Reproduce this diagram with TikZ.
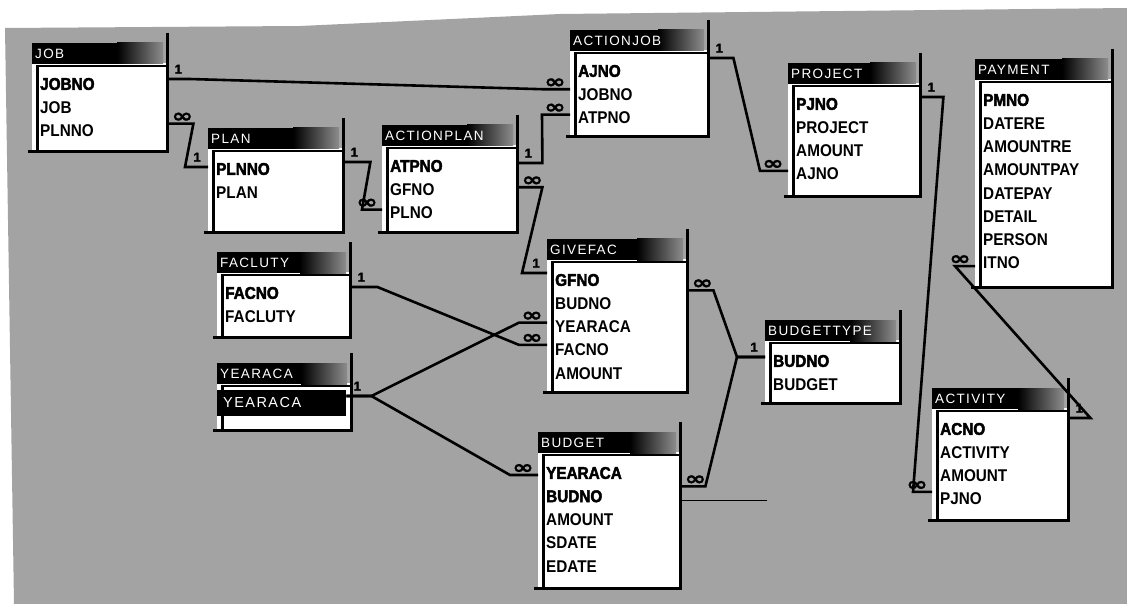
\documentclass[tikz,border=0pt]{standalone}
\usepackage{fontspec}
\setmainfont{Liberation Sans}
\newfontfamily\fieldfam{Liberation Sans}[FakeStretch=0.9]
\newfontfamily\keyfam{Liberation Sans}[FakeBold=2.5, FakeStretch=0.9]
\newfontfamily\onefam{Liberation Sans}[FakeBold=2]
\newfontfamily\titlefam{Liberation Sans}[LetterSpace=10]
\newfontfamily\symfam{DejaVu Sans}[FakeStretch=1.35, FakeBold=1.5]
\definecolor{bggray}{gray}{0.64}

% primary-key fields are set heavier
\newcommand\pk{\keyfam\bfseries}

% window frame and title bar of one table: name, left, right, top, bottom, title
\newcommand\accframe[6]{%
  \fill[white] (#2,#4+20) rectangle (#3,#5);
  \fill[black] (#2,#4) rectangle (#3-4,#4+21);
  \shade[left color=black, right color=black!45] (#3-50,#4) rectangle (#3-4,#4+21);
  \node[titletext] (#1) at (#2+3,#4+11) {#6};
  \draw[line width=1.2pt] (#2+4,#4+23) -- (#3,#4+23);
  \draw[line width=3pt] (#2+5.5,#4+23) -- (#2+5.5,#5);
  \draw[line width=3pt] (#3,#4-10) -- (#3,#5+1.5);
  \draw[line width=3pt] (#2-4,#5) -- (#3+1.5,#5);
}
% field rows of one table: name, left, right, top, list of fields
\newcommand\accfields[5]{%
  \pgfmathsetmacro\fw{#3-#2-16}%
  \foreach \f [count=\i] in {#5}
    \node[fieldtext, text width=\fw pt] (#1-\i) at (#2,{#4+41+(\i-1)*23.3}) {\f};
}

\begin{document}
\begin{tikzpicture}[x=1pt,y=-1pt,
  titletext/.style={anchor=west, text=white, inner sep=0pt,
    font=\titlefam\fontsize{13.5}{14}\selectfont},
  fieldtext/.style={anchor=west, inner xsep=8pt, inner ysep=0pt, align=left,
    font=\fieldfam\bfseries\fontsize{17}{19}\selectfont},
  rel/.style={line width=2.6pt},
  one/.style={inner sep=0pt, font=\onefam\bfseries\fontsize{13}{13}\selectfont},
  many/.style={inner sep=0pt, font=\symfam\bfseries\fontsize{19}{19}\selectfont},
  oneR/.style={one, anchor=south west, xshift=6pt, yshift=4pt},
  oneL/.style={one, anchor=south east, xshift=-6pt, yshift=4pt},
  manyR/.style={many, anchor=south west, xshift=3pt, yshift=0pt},
  manyL/.style={many, anchor=south east, xshift=-3pt, yshift=0pt}]
\useasboundingbox (0,0) rectangle (1127,604);

% paper and grey window background
\fill[white] (0,0) rectangle (1127,604);
\fill[bggray] (5,28) -- (300,26) -- (560,14) -- (1127,8) -- (1127,604) -- (14,604) -- cycle;

% tables
\accframe{job}{32}{167}{43}{152}{JOB}
\accfields{job}{32}{167}{43}{\pk JOBNO, JOB, PLNNO}

\accframe{pl}{208}{343}{128}{233}{PLAN}
\accfields{pl}{208}{343}{128}{\pk PLNNO, PLAN}

\accframe{ap}{382}{517}{125}{233}{ACTIONPLAN}
\accfields{ap}{382}{517}{125}{\pk ATPNO, GFNO, PLNO}

\accframe{aj}{570}{708}{30}{137}{ACTIONJOB}
\accfields{aj}{570}{708}{30}{\pk AJNO, JOBNO, ATPNO}

\accframe{pr}{788}{920}{63}{197}{PROJECT}
\accfields{pr}{788}{920}{63}{\pk PJNO, PROJECT, AMOUNT, AJNO}

\accframe{py}{975}{1112}{59}{287}{PAYMENT}
\accfields{py}{975}{1112}{59}{\pk PMNO, DATERE, AMOUNTRE, AMOUNTPAY, DATEPAY, DETAIL, PERSON, ITNO}

\accframe{fa}{217}{350}{252}{337}{FACLUTY}
\accfields{fa}{217}{350}{252}{\pk FACNO, FACLUTY}

\accframe{yr}{217}{351}{363}{430}{YEARACA}
\node[fieldtext, fill=black, text=white, inner xsep=6pt, minimum height=26pt,
  text width=117pt, font=\titlefam\fontsize{14.5}{16}\selectfont] (yr-1) at (217,403) {YEARACA};

\accframe{gf}{547}{687}{239}{392}{GIVEFAC}
\accfields{gf}{547}{687}{239}{\pk GFNO, BUDNO, YEARACA, FACNO, AMOUNT}

\accframe{bt}{765}{900}{320}{403}{BUDGETTYPE}
\accfields{bt}{765}{900}{320}{\pk BUDNO, BUDGET}

\accframe{bg}{538}{680}{432}{588}{BUDGET}
\accfields{bg}{538}{680}{432}{\pk YEARACA, \pk BUDNO, AMOUNT, SDATE, EDATE}

\accframe{ac}{932}{1068}{388}{520}{ACTIVITY}
\accfields{ac}{932}{1068}{388}{\pk ACNO, ACTIVITY, AMOUNT, PJNO}

% relationships
\draw[rel] ([yshift=5pt]job-1.east) node[oneR] (r1a) {1}
  -- ++(22,0) -- ([xshift=-25pt,yshift=5pt]aj-2.west) -- ([yshift=5pt]aj-2.west)
  node[manyL] (r1b) {∞};
\draw[rel] ([yshift=7pt]job-3.east) node[manyR] (r2a) {∞}
  -- ++(26,0) -- ([xshift=-23pt,yshift=2pt]pl-1.west) -- ([yshift=2pt]pl-1.west)
  node[oneL] (r2b) {1};
\draw[rel] ([yshift=7pt]pl-1.east) node[oneR] (r3a) {1}
  -- ++(27,0) -- ([xshift=-20pt,yshift=3pt]ap-3.west) -- ([yshift=3pt]ap-3.west)
  node[manyL] (r3b) {∞};
\draw[rel] ([yshift=3pt]ap-1.east) node[oneR] (r4a) {1}
  -- ++(25,0) -- ([xshift=-28pt,yshift=3pt]aj-3.west) -- ([yshift=3pt]aj-3.west)
  node[manyL] (r4b) {∞};
\draw[rel] ([yshift=2pt]ap-2.east) node[manyR] (r5a) {∞}
  -- ++(25,0) -- ([xshift=-25pt,yshift=7pt]gf-1.west) -- ([yshift=7pt]gf-1.west)
  node[oneL] (r5b) {1};
\draw[rel] ([yshift=13pt]aj-1.east) node[oneR] (r6a) {1}
  -- ++(25,0) -- ([xshift=-28pt,yshift=3pt]pr-4.west) -- ([yshift=3pt]pr-4.west)
  node[manyL] (r6b) {∞};
\draw[rel] ([yshift=7pt]pr-1.east) node[oneR] (r7a) {1}
  -- ++(23,0) -- ([xshift=-19pt,yshift=7pt]ac-4.west) -- ([yshift=7pt]ac-4.west)
  node[manyL] (r7b) {∞};
\draw[rel] ([yshift=-3pt]py-8.west) node[manyL] (r8a) {∞}
  -- ++(-20,0) -- ([xshift=22pt,yshift=11pt]ac-1.east) -- ([yshift=11pt]ac-1.east)
  node[oneR] (r8b) {1};
\draw[rel] ([yshift=13pt]gf-2.east) node[manyR] (r9a) {∞}
  -- ++(26,0) -- ([xshift=-28pt,yshift=4pt]bt-1.west) -- ([yshift=4pt]bt-1.west)
  node[oneL] (r9b) {1};
\draw[rel] ([yshift=10pt]bg-2.east) node[manyR] (r10a) {∞}
  -- ++(25,0) -- ([xshift=-28pt,yshift=4pt]bt-1.west) -- ([yshift=4pt]bt-1.west);
\draw[rel] ([yshift=7pt]yr-1.east) node[oneR] (r11a) {1}
  -- ++(25,0) -- ([xshift=-28pt,yshift=-2pt]bg-1.west) -- ([yshift=-2pt]bg-1.west)
  node[manyL] (r11b) {∞};
\draw[rel] ([yshift=7pt]yr-1.east)
  -- ++(25,0) -- ([xshift=-28pt,yshift=4pt]gf-3.west) -- ([yshift=4pt]gf-3.west)
  node[manyL] (r12b) {∞};
\draw[rel] ([yshift=6pt]fa-1.east) node[oneR] (r13a) {1}
  -- ++(27,0) -- ([xshift=-28pt,yshift=5pt]gf-4.west) -- ([yshift=5pt]gf-4.west)
  node[manyL] (r13b) {∞};
\draw[line width=0.8pt] ([yshift=-4pt]bg-2.east) -- ++(87,0);
\end{tikzpicture}
\end{document}
